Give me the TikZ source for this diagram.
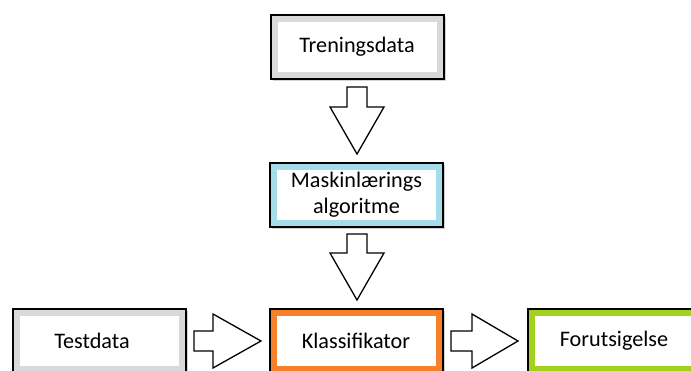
\documentclass[tikz,border=0pt]{standalone}
\usepackage{fontspec}
\setmainfont{Carlito}
\usetikzlibrary{shadows}
\definecolor{bandgray}{HTML}{D9D9D9}
\definecolor{bandblue}{HTML}{A5DCEA}
\definecolor{bandorange}{HTML}{F8802A}
\definecolor{bandgreen}{HTML}{A2D11E}
\begin{document}
\begin{tikzpicture}[x=1pt,y=-1pt,
  box/.style={draw=black, line width=2pt, fill=#1,
    minimum width=173pt, minimum height=64pt, inner sep=0pt,
    font=\fontsize{22.2}{26}\selectfont, align=center,
    drop shadow={shadow xshift=2pt, shadow yshift=-2pt, opacity=0.35, fill=gray},
    path picture={\fill[white] ([shift={(7pt,7pt)}]path picture bounding box.south west)
       rectangle ([shift={(-7pt,-7pt)}]path picture bounding box.north east);}},
  barrow/.style={draw=black, line width=1.3pt, fill=white, line join=miter}]
\clip (0,0) rectangle (691,371);
\fill[white] (0,0) rectangle (691,371);
\node[box=bandgray]   (tren) at (357,47)  {Treningsdata};
\node[box=bandblue]   (mask) at (356.5,195) {Maskinlærings\\algoritme};
\node[box=bandgray]   (test) at (99.5,341) {Testdata\hspace*{15pt}};
\node[box=bandorange] (klas) at (356,341) {Klassifikator};
\node[box=bandgreen]  (foru) at (614,341) {Forutsigelse};
% block arrows
\draw[barrow] (347,87) -- (367,87) -- (367,107) -- (384,107) -- (357,154) -- (330,107) -- (347,107) -- cycle;
\draw[barrow] (347,234) -- (367,234) -- (367,253) -- (384,253) -- (357,300) -- (330,253) -- (347,253) -- cycle;
\draw[barrow] (194,331) -- (213,331) -- (213,314) -- (261,341) -- (213,368) -- (213,351) -- (194,351) -- cycle;
\draw[barrow] (451,331) -- (472,331) -- (472,314) -- (518,341) -- (472,368) -- (472,351) -- (451,351) -- cycle;
\end{tikzpicture}
\end{document}
